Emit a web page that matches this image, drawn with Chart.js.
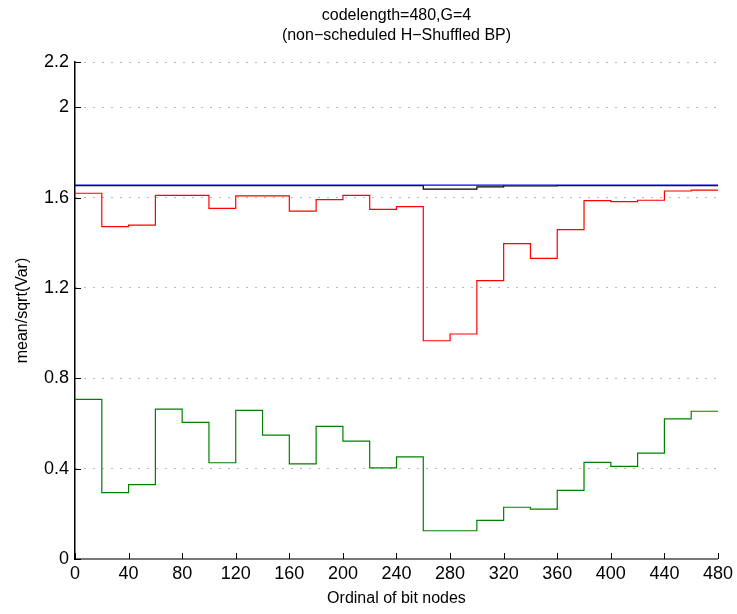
<!DOCTYPE html>
<html>
<head>
<meta charset="utf-8">
<script src="https://cdn.jsdelivr.net/npm/chart.js@4/dist/chart.umd.min.js"></script>
<style>
  html, body { margin: 0; padding: 0; background: #fff; }
  #wrap { width: 737px; height: 614px; }
</style>
</head>
<body>
<div id="wrap"><canvas id="c"></canvas></div>
<script>
// step boundaries (bit node ordinals), one value per 20-node group
const nodeBounds = [0, 20, 40, 60, 80, 100, 120, 140, 160, 180, 200, 220, 240,
                    260, 280, 300, 320, 340, 360, 380, 400, 420, 440, 460, 480];

const blueVals = [1.655, 1.655, 1.655, 1.655, 1.655, 1.655, 1.655, 1.655, 1.655, 1.655, 1.655, 1.655,
                  1.655, 1.655, 1.655, 1.655, 1.655, 1.655, 1.655, 1.655, 1.655, 1.655, 1.655, 1.655];
const blackVals = [1.653, 1.653, 1.653, 1.653, 1.653, 1.653, 1.653, 1.653, 1.653, 1.653, 1.653, 1.653,
                   1.653, 1.637, 1.637, 1.647, 1.651, 1.651, 1.653, 1.653, 1.653, 1.653, 1.653, 1.653];
const redVals = [1.619, 1.471, 1.478, 1.610, 1.610, 1.552, 1.607, 1.607, 1.540, 1.591, 1.610, 1.548,
                 1.560, 0.966, 0.996, 1.232, 1.396, 1.331, 1.458, 1.586, 1.582, 1.588, 1.629, 1.633];
const greenVals = [0.707, 0.294, 0.329, 0.663, 0.605, 0.426, 0.658, 0.548, 0.421, 0.587, 0.522, 0.403,
                   0.452, 0.125, 0.125, 0.171, 0.229, 0.221, 0.304, 0.428, 0.410, 0.469, 0.620, 0.654];

const yTicks = [0, 0.4, 0.8, 1.2, 1.6, 2, 2.2];
const xTicks = [0, 40, 80, 120, 160, 200, 240, 280, 320, 360, 400, 440, 480];

const titleLines = ['codelength=480,G=4', '(non\u2212scheduled H\u2212Shuffled BP)'];

const FONT = "'Liberation Sans', Arial, Helvetica, sans-serif";

// one point at each group start, last value repeated at 480 so the final step is drawn
function steps(vals) {
    return nodeBounds.map((x, i) => ({ x, y: vals[Math.min(i, vals.length - 1)] }));
}

function line(label, vals, color) {
    return {
        label,
        data: steps(vals),
        borderColor: color,
        backgroundColor: color,
        borderWidth: 1.2,
        pointRadius: 0,
        stepped: 'before',
        fill: false,
    };
}

// title above the plot, plus inward tick marks (matlab look)
const decor = {
    id: 'decor',
    afterDraw(chart) {
        const { ctx, chartArea: a, scales } = chart;
        ctx.save();
        ctx.fillStyle = '#000';
        ctx.font = `16px ${FONT}`;
        ctx.textAlign = 'center';
        ctx.textBaseline = 'middle';
        const cx = (a.left + a.right) / 2;
        ctx.fillText(titleLines[0], cx, 16);
        ctx.fillText(titleLines[1], cx, 36);

        ctx.strokeStyle = '#000';
        ctx.lineWidth = 1;
        ctx.beginPath();
        for (const v of yTicks) {
            const y = Math.round(scales.y.getPixelForValue(v)) + 0.5;
            ctx.moveTo(a.left, y);
            ctx.lineTo(a.left + 6, y);
        }
        for (const v of xTicks) {
            const x = Math.round(scales.x.getPixelForValue(v)) + 0.5;
            ctx.moveTo(x, a.bottom);
            ctx.lineTo(x, a.bottom - 6);
        }
        ctx.stroke();
        ctx.restore();
    }
};

new Chart(document.getElementById('c'), {
    type: 'line',
    data: {
        datasets: [
            line('blue', blueVals, '#0000ff'),
            line('black', blackVals, '#000000'),
            line('red', redVals, '#ff0000'),
            line('green', greenVals, '#008000'),
        ]
    },
    options: {
        responsive: true,
        maintainAspectRatio: false,
        animation: false,
        events: [],
        layout: { padding: { top: 62, right: 19, left: 0, bottom: 0 } },
        plugins: {
            legend: { display: false },
            tooltip: { enabled: false },
        },
        scales: {
            x: {
                type: 'linear',
                min: 0,
                max: 480,
                afterFit: (s) => { s.height = 55; },
                afterBuildTicks: (s) => { s.ticks = xTicks.map(v => ({ value: v })); },
                grid: { display: false, drawTicks: false },
                border: { display: true, color: '#777', width: 2 },
                ticks: {
                    color: '#000',
                    font: { size: 18, family: FONT },
                    padding: 4,
                    maxRotation: 0,
                    autoSkip: false,
                },
                title: {
                    display: true,
                    text: 'Ordinal of bit nodes',
                    color: '#000',
                    font: { size: 16, family: FONT },
                    padding: { top: 0, bottom: 6 },
                },
            },
            y: {
                type: 'linear',
                min: 0,
                max: 2.2,
                afterFit: (s) => { s.width = 75; },
                afterBuildTicks: (s) => { s.ticks = yTicks.map(v => ({ value: v })); },
                grid: {
                    drawTicks: false,
                    color: 'rgba(0,0,0,0.55)',
                    lineWidth: 1,
                },
                border: { display: true, color: '#000', width: 1.5, dash: [1, 8] },
                ticks: {
                    color: '#000',
                    font: { size: 18, family: FONT },
                    padding: 6,
                    callback: (v) => String(v),
                },
                title: {
                    display: true,
                    text: 'mean/sqrt(Var)',
                    color: '#000',
                    font: { size: 16, family: FONT },
                    padding: { top: 13, bottom: 0 },
                },
            },
        },
    },
    plugins: [decor],
});
</script>
</body>
</html>
